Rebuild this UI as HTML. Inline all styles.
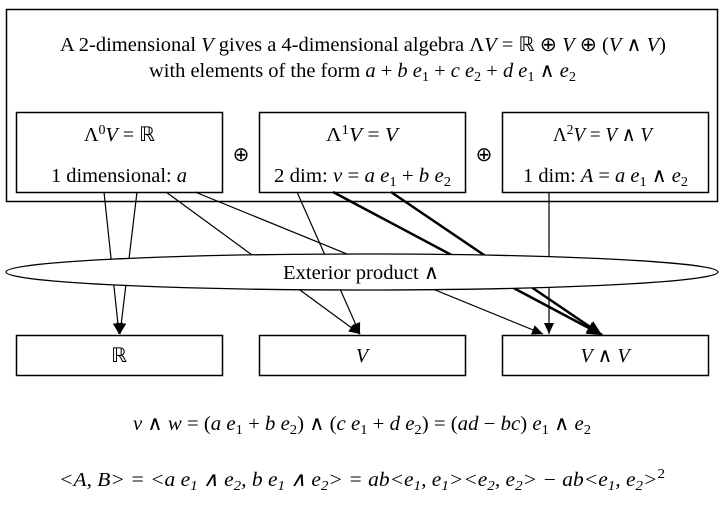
<!DOCTYPE html>
<html><head><meta charset="utf-8"><style>
body{margin:0;background:#fff;}
svg text{font-family:"Liberation Serif",serif;font-size:20px;fill:#000;}
.i{font-style:italic}
</style></head><body>
<svg width="724" height="505" xmlns="http://www.w3.org/2000/svg">
<defs><marker id="a" markerWidth="12" markerHeight="12" refX="11" refY="5" orient="auto" markerUnits="userSpaceOnUse"><path d="M0,0 L11,5 L0,10 z" fill="#000"/></marker>
<marker id="b" markerWidth="16" markerHeight="14" refX="15" refY="6.5" orient="auto" markerUnits="userSpaceOnUse"><path d="M0,0 L15,6.5 L0,13 z" fill="#000"/></marker></defs>
<rect x="6.5" y="9.5" width="711" height="192" fill="#fff" stroke="#000" stroke-width="1.5"/>
<text x="60" y="51" textLength="606" lengthAdjust="spacingAndGlyphs">A 2-dimensional <tspan class="i">V</tspan> gives a 4-dimensional algebra Λ<tspan class="i">V</tspan> = ℝ ⊕ <tspan class="i">V</tspan> ⊕ (<tspan class="i">V</tspan> ∧ <tspan class="i">V</tspan>)</text>
<text x="149" y="77" textLength="427" lengthAdjust="spacingAndGlyphs">with elements of the form <tspan class="i">a</tspan> + <tspan class="i">b e</tspan><tspan font-size="14" dy="4">1</tspan><tspan dy="-4"> + </tspan><tspan class="i">c e</tspan><tspan font-size="14" dy="4">2</tspan><tspan dy="-4"> + </tspan><tspan class="i">d e</tspan><tspan font-size="14" dy="4">1</tspan><tspan dy="-4"> ∧ </tspan><tspan class="i">e</tspan><tspan font-size="14" dy="4">2</tspan></text>
<rect x="16.5" y="112.5" width="206" height="80" fill="#fff" stroke="#000" stroke-width="1.5"/>
<rect x="259.5" y="112.5" width="206" height="80" fill="#fff" stroke="#000" stroke-width="1.5"/>
<rect x="502.5" y="112.5" width="206" height="80" fill="#fff" stroke="#000" stroke-width="1.5"/>
<text x="84" y="141" textLength="71" lengthAdjust="spacingAndGlyphs">Λ<tspan font-size="14" dy="-7">0</tspan><tspan class="i" dy="7">V</tspan> = ℝ</text>
<text x="51" y="182" textLength="136" lengthAdjust="spacingAndGlyphs">1 dimensional: <tspan class="i">a</tspan></text>
<text x="326" y="141" textLength="72" lengthAdjust="spacingAndGlyphs">Λ<tspan font-size="14" dy="-7">1</tspan><tspan class="i" dy="7">V</tspan> = <tspan class="i">V</tspan></text>
<text x="274" y="182" textLength="177" lengthAdjust="spacingAndGlyphs">2 dim: <tspan class="i">v</tspan> = <tspan class="i">a e</tspan><tspan font-size="14" dy="4">1</tspan><tspan dy="-4"> + </tspan><tspan class="i">b e</tspan><tspan font-size="14" dy="4">2</tspan></text>
<text x="553" y="141" textLength="99" lengthAdjust="spacingAndGlyphs">Λ<tspan font-size="14" dy="-7">2</tspan><tspan class="i" dy="7">V</tspan> = <tspan class="i">V</tspan> ∧ <tspan class="i">V</tspan></text>
<text x="523" y="182" textLength="165" lengthAdjust="spacingAndGlyphs">1 dim: <tspan class="i">A</tspan> = <tspan class="i">a e</tspan><tspan font-size="14" dy="4">1</tspan><tspan dy="-4"> ∧ </tspan><tspan class="i">e</tspan><tspan font-size="14" dy="4">2</tspan></text>
<text x="241" y="161" text-anchor="middle">⊕</text>
<text x="484" y="161" text-anchor="middle">⊕</text>
<g stroke="#000" stroke-width="1.2" fill="none">
<line x1="104" y1="192" x2="119" y2="334" marker-end="url(#a)"/>
<line x1="137" y1="192" x2="120" y2="334" marker-end="url(#a)"/>
<line x1="166" y1="192" x2="360" y2="334" marker-end="url(#a)"/>
<line x1="195" y1="192" x2="543" y2="334" marker-end="url(#a)"/>
<line x1="297" y1="192" x2="360" y2="334" marker-end="url(#a)"/>
<line x1="549" y1="192" x2="549" y2="334" marker-end="url(#a)"/>
<line x1="333" y1="192" x2="602" y2="335" stroke-width="2.5" marker-end="url(#b)"/>
<line x1="391" y1="192" x2="602" y2="335" stroke-width="2.5" marker-end="url(#b)"/>
</g>
<ellipse cx="362" cy="272" rx="356" ry="18" fill="#fff" stroke="#000" stroke-width="1.3"/>
<rect x="16.5" y="335.5" width="206" height="40" fill="#fff" stroke="#000" stroke-width="1.5"/>
<rect x="259.5" y="335.5" width="206" height="40" fill="#fff" stroke="#000" stroke-width="1.5"/>
<rect x="502.5" y="335.5" width="206" height="40" fill="#fff" stroke="#000" stroke-width="1.5"/>
<text x="283" y="279" textLength="156" lengthAdjust="spacingAndGlyphs">Exterior product ∧</text>
<text x="119" y="362" text-anchor="middle">ℝ</text>
<text x="362" y="362" text-anchor="middle" class="i">V</text>
<text x="605" y="362" text-anchor="middle"><tspan class="i">V</tspan> ∧ <tspan class="i">V</tspan></text>
<text x="133" y="430" textLength="458" lengthAdjust="spacingAndGlyphs"><tspan class="i">v</tspan> ∧ <tspan class="i">w</tspan> = (<tspan class="i">a e</tspan><tspan font-size="14" dy="4">1</tspan><tspan dy="-4"> + </tspan><tspan class="i">b e</tspan><tspan font-size="14" dy="4">2</tspan><tspan dy="-4">) ∧ (</tspan><tspan class="i">c e</tspan><tspan font-size="14" dy="4">1</tspan><tspan dy="-4"> + </tspan><tspan class="i">d e</tspan><tspan font-size="14" dy="4">2</tspan><tspan dy="-4">) = (</tspan><tspan class="i">ad</tspan> − <tspan class="i">bc</tspan>) <tspan class="i">e</tspan><tspan font-size="14" dy="4">1</tspan><tspan dy="-4"> ∧ </tspan><tspan class="i">e</tspan><tspan font-size="14" dy="4">2</tspan></text>
<text x="59" y="486" textLength="606" lengthAdjust="spacingAndGlyphs" class="i">&lt;A, B&gt; = &lt;a e<tspan font-size="14" dy="4">1</tspan><tspan dy="-4"> ∧ e</tspan><tspan font-size="14" dy="4">2</tspan><tspan dy="-4">,  b e</tspan><tspan font-size="14" dy="4">1</tspan><tspan dy="-4"> ∧ e</tspan><tspan font-size="14" dy="4">2</tspan><tspan dy="-4">&gt; = ab&lt;e</tspan><tspan font-size="14" dy="4">1</tspan><tspan dy="-4">, e</tspan><tspan font-size="14" dy="4">1</tspan><tspan dy="-4">&gt;&lt;e</tspan><tspan font-size="14" dy="4">2</tspan><tspan dy="-4">, e</tspan><tspan font-size="14" dy="4">2</tspan><tspan dy="-4">&gt; − ab&lt;e</tspan><tspan font-size="14" dy="4">1</tspan><tspan dy="-4">, e</tspan><tspan font-size="14" dy="4">2</tspan><tspan dy="-4">&gt;</tspan><tspan font-size="14" dy="-8" font-style="normal">2</tspan></text>
</svg>
</body></html>
